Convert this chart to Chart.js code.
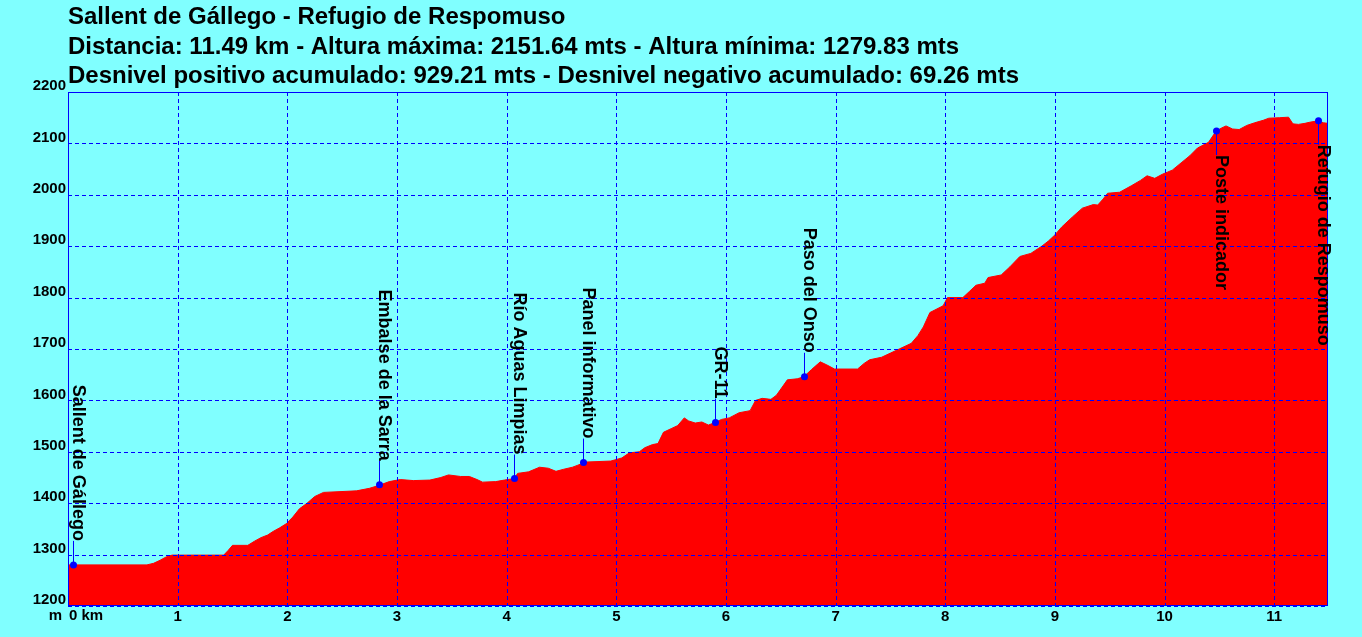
<!DOCTYPE html>
<html>
<head>
<meta charset="utf-8">
<script src="https://cdn.jsdelivr.net/npm/chart.js@4/dist/chart.umd.min.js"></script>
<style>
html,body{margin:0;padding:0;background:#80FFFF;}
#wrap{width:1362px;height:637px;position:relative;}
</style>
</head>
<body>
<div id="wrap"><canvas id="c" width="1362" height="637"></canvas></div>
<script>
// ---- Data ----
const titleLines = [
  "Sallent de Gállego - Refugio de Respomuso",
  "Distancia: 11.49 km - Altura máxima: 2151.64 mts - Altura mínima: 1279.83 mts",
  "Desnivel positivo acumulado: 929.21 mts - Desnivel negativo acumulado: 69.26 mts"
];
const distanceKm = [0,0.72,0.78,0.84,0.90,0.95,1.42,1.46,1.50,1.64,1.70,1.76,1.82,1.87,1.93,1.99,2.05,2.11,2.18,2.25,2.33,2.63,2.75,2.84,2.93,3.03,3.15,3.30,3.40,3.47,3.58,3.66,3.73,3.78,3.90,3.98,4.07,4.10,4.20,4.30,4.38,4.45,4.52,4.60,4.65,4.72,4.95,5.05,5.12,5.21,5.26,5.33,5.38,5.43,5.50,5.56,5.62,5.66,5.72,5.78,5.84,5.90,5.96,6.03,6.12,6.22,6.27,6.33,6.41,6.46,6.52,6.56,6.65,6.71,6.78,6.86,6.92,6.99,7.20,7.26,7.31,7.42,7.50,7.58,7.69,7.75,7.80,7.86,7.98,8.02,8.16,8.22,8.28,8.36,8.39,8.51,8.59,8.68,8.78,8.88,8.94,9.00,9.06,9.16,9.25,9.35,9.39,9.44,9.48,9.59,9.70,9.78,9.84,9.91,9.98,10.07,10.15,10.23,10.30,10.40,10.47,10.52,10.56,10.62,10.68,10.75,10.82,10.90,10.95,11.05,11.13,11.17,11.22,11.28,11.32,11.40,11.45,11.49];
const elevationM = [1280,1280,1283,1289,1296,1299,1299,1308,1318,1318,1326,1333,1338,1345,1352,1360,1373,1389,1400,1413,1421,1424,1429,1435,1442,1446,1444,1445,1450,1455,1452,1452,1446,1441,1442,1445,1448,1458,1461,1470,1468,1462,1466,1470,1474,1480,1482,1488,1498,1500,1508,1514,1516,1538,1545,1551,1566,1560,1556,1558,1552,1557,1563,1566,1576,1580,1600,1604,1602,1610,1628,1640,1642,1646,1660,1675,1669,1661,1661,1672,1679,1684,1692,1700,1711,1726,1743,1771,1784,1800,1800,1812,1824,1828,1839,1844,1860,1880,1886,1900,1910,1922,1937,1957,1974,1981,1980,1992,2003,2005,2018,2028,2037,2032,2040,2048,2062,2076,2091,2102,2124,2130,2134,2128,2127,2135,2140,2145,2149,2150,2151,2138,2137,2139,2141,2144,2140,2139];
const waypointNames = ["Sallent de Gállego","Embalse de la Sarra","Río Aguas Limpias","Panel informativo","GR-11","Paso del Onso","Poste indicador","Refugio de Respomuso"];
const waypointKm = [0.05,2.84,4.07,4.70,5.90,6.71,10.47,11.40];
const waypointM = [1280,1436,1448,1479,1557,1646,2124,2144];
const xTickValues = [0,1,2,3,4,5,6,7,8,9,10,11];
const yTickValues = [1200,1300,1400,1500,1600,1700,1800,1900,2000,2100,2200];
const distanceMax = 11.49;

// ---- Chart ----
const FONT = "'Liberation Sans', Arial, sans-serif";
const BLUE = '#0000FF';

const profile = distanceKm.map((d,i)=>({x:d,y:elevationM[i]}));

const decor = {
  id:'decor',
  beforeDraw(chart){
    const ctx = chart.ctx;
    ctx.save();
    ctx.fillStyle = '#80FFFF';
    ctx.fillRect(0,0,chart.width,chart.height);
    ctx.restore();
  },
  afterDatasetsDraw(chart){
    const ctx = chart.ctx, a = chart.chartArea;
    const xs = chart.scales.x, ys = chart.scales.y;
    ctx.save();
    ctx.strokeStyle = BLUE; ctx.lineWidth = 1;
    ctx.setLineDash([4,3]);
    xTickValues.forEach(v=>{
      const x = Math.round(xs.getPixelForValue(v)) + 0.5;
      ctx.beginPath(); ctx.moveTo(x, a.top); ctx.lineTo(x, a.bottom); ctx.stroke();
    });
    yTickValues.forEach(v=>{
      const y = Math.round(ys.getPixelForValue(v)) + 0.5;
      ctx.beginPath(); ctx.moveTo(a.left, y); ctx.lineTo(a.right, y); ctx.stroke();
    });
    ctx.restore();
  },
  afterDraw(chart){
    const ctx = chart.ctx, a = chart.chartArea;
    const xs = chart.scales.x, ys = chart.scales.y;
    ctx.save();
    // border
    ctx.strokeStyle = BLUE; ctx.lineWidth = 1;
    ctx.strokeRect(Math.round(a.left)+0.5, Math.round(a.top)+0.5, Math.round(a.right-a.left)-1, Math.round(a.bottom-a.top)-1);
    // title
    ctx.fillStyle = '#000';
    ctx.font = 'bold 24px ' + FONT;
    ctx.textAlign = 'left'; ctx.textBaseline = 'alphabetic';
    titleLines.forEach((t,i)=>ctx.fillText(t, a.left, 24 + i*29.5));
    // axis unit labels
    ctx.font = 'bold 15px ' + FONT;
    ctx.textBaseline = 'top';
    ctx.textAlign = 'right';
    ctx.fillText('m', a.left - 6, a.bottom + 2);
    ctx.textAlign = 'left';
    ctx.fillText('0 km', xs.getPixelForValue(0) + 1, a.bottom + 2);
    // waypoint stems + labels
    ctx.font = 'bold 18px ' + FONT;
    waypointNames.forEach((name,i)=>{
      const px = Math.round(xs.getPixelForValue(waypointKm[i]));
      const py = ys.getPixelForValue(waypointM[i]);
      const w = ctx.measureText(name).width;
      const stem = 24;
      const up = (py - stem - w) > a.top + 2;
      ctx.strokeStyle = BLUE; ctx.lineWidth = 1;
      ctx.beginPath();
      ctx.moveTo(px+0.5, py);
      ctx.lineTo(px+0.5, up ? py - stem : py + stem);
      ctx.stroke();
      ctx.save();
      ctx.translate(px, up ? py - stem : py + stem);
      ctx.rotate(Math.PI/2);
      ctx.fillStyle = '#000';
      ctx.textBaseline = 'alphabetic';
      ctx.textAlign = up ? 'right' : 'left';
      ctx.fillText(name, 0, 0);
      ctx.restore();
    });
    // points on top
    ctx.fillStyle = BLUE;
    waypointNames.forEach((n,i)=>{
      const px = Math.round(xs.getPixelForValue(waypointKm[i]))+0.5;
      const py = ys.getPixelForValue(waypointM[i]);
      ctx.beginPath(); ctx.arc(px,py,3.5,0,Math.PI*2); ctx.fill();
    });
    ctx.restore();
  }
};

new Chart(document.getElementById('c'), {
  type:'line',
  data:{
    datasets:[
      {label:'Perfil', data:profile, fill:'start', backgroundColor:'#FF0000', borderColor:'#FF0000', borderWidth:1, pointRadius:0, tension:0}
    ]
  },
  options:{
    responsive:false, animation:false,
    layout:{padding:{left:0,right:34,top:92,bottom:0}},
    plugins:{legend:{display:false}, tooltip:{enabled:false}, title:{display:false}},
    scales:{
      x:{
        type:'linear', min:0, max:distanceMax,
        afterBuildTicks:s=>{ s.ticks = xTickValues.map(v=>({value:v})); },
        afterFit:s=>{ s.height = 31; s.paddingLeft = 0; s.paddingRight = 0; },
        grid:{display:false, drawTicks:false},
        border:{display:false},
        ticks:{color:'#000', font:{family:FONT, size:15, weight:'bold'}, padding:2, maxRotation:0, autoSkip:false,
          callback:v=> v===0 ? '' : String(v)}
      },
      y:{
        type:'linear', min:1200, max:2200,
        afterBuildTicks:s=>{ s.ticks = yTickValues.map(v=>({value:v})); },
        afterFit:s=>{ s.width = 68; s.paddingTop = 0; s.paddingBottom = 0; },
        grid:{display:false, drawTicks:false},
        border:{display:false},
        ticks:{color:'#000', font:{family:FONT, size:15, weight:'bold'}, padding:2, labelOffset:-6, autoSkip:false,
          callback:v=>String(v)}
      }
    }
  },
  plugins:[decor]
});
</script>
</body>
</html>
